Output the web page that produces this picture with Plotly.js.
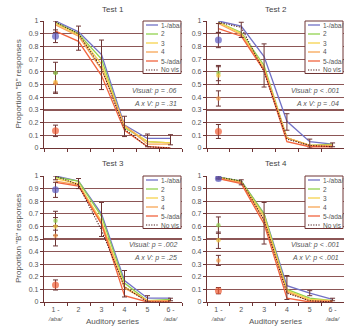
<!DOCTYPE html>
<html><head><meta charset="utf-8">
<script src="https://cdn.plot.ly/plotly-3.0.1.min.js"></script>
<style>html,body{margin:0;padding:0;background:#fff;}#chart{width:344px;height:327px;}</style>
</head><body><div id="chart"></div>
<script>
// ---------- DATA ----------
const categories = ['1','2','3','4','5','6'];
const tickLabels = ['1 -<br><span style="font-size:6px"><i>/aba/</i></span>','2','3','4','5','6 -<br><span style="font-size:6px"><i>/ada/</i></span>'];
const seriesNames = ['1-/aba/','2','3','4','5-/ada/','No vis'];
const panelTitles = ['Test 1','Test 2','Test 3','Test 4'];
const yTitle = 'Proportion "B" responses';
const xTitle = 'Auditory series';

// Test 1
const test1_s1 = [1.00,0.915,0.735,0.18,0.075,0.075];
const test1_s2 = [0.99,0.90,0.70,0.16,0.05,0.04];
const test1_s3 = [0.98,0.89,0.66,0.17,0.05,0.04];
const test1_s4 = [0.97,0.88,0.62,0.18,0.03,0.03];
const test1_s5 = [0.92,0.84,0.57,0.14,0.01,0.00];
const test1_noVis = [0.99,0.90,0.63,0.15,0.01,0.00];
const test1_errMid = [0.955,0.865,0.655,0.17,0.06,0.065];
const test1_errHalf = [0.045,0.095,0.195,0.08,0.05,0.04];
const test1_visual = [0.88,0.59,0.52,0.51,0.135];
const test1_visualErr = [0.05,0.085,0.08,0.08,0.045];
const test1_stats = ['Visual: p = .06','A x V: p = .31'];

// Test 2
const test2_s1 = [1.00,0.96,0.72,0.21,0.05,0.03];
const test2_s2 = [0.99,0.91,0.65,0.08,0.02,0.03];
const test2_s3 = [0.99,0.90,0.63,0.08,0.02,0.02];
const test2_s4 = [0.98,0.89,0.62,0.08,0.02,0.02];
const test2_s5 = [0.94,0.88,0.61,0.05,0.01,0.01];
const test2_noVis = [0.99,0.95,0.60,0.07,0.02,0.01];
const test2_errMid = [0.945,0.93,0.65,0.205,0.035,0.025];
const test2_errHalf = [0.035,0.06,0.17,0.065,0.035,0.015];
const test2_visual = [0.85,0.59,0.57,0.39,0.13];
const test2_visualErr = [0.06,0.06,0.07,0.06,0.055];
const test2_stats = ['Visual: p < .001','A x V: p = .04'];

// Test 3
const test3_s1 = [1.00,0.96,0.70,0.17,0.03,0.03];
const test3_s2 = [0.99,0.96,0.68,0.15,0.01,0.02];
const test3_s3 = [0.98,0.94,0.64,0.12,0.01,0.01];
const test3_s4 = [0.96,0.93,0.62,0.11,0.01,0.01];
const test3_s5 = [0.95,0.92,0.62,0.05,0.00,0.00];
const test3_noVis = [1.00,0.93,0.57,0.12,0.00,0.00];
const test3_errMid = [0.985,0.94,0.655,0.145,0.025,0.02];
const test3_errHalf = [0.015,0.04,0.135,0.105,0.025,0.01];
const test3_visual = [0.89,0.645,0.60,0.525,0.135];
const test3_visualErr = [0.06,0.075,0.07,0.08,0.04];
const test3_stats = ['Visual: p = .002','A x V: p = .25'];

// Test 4
const test4_s1 = [0.99,0.96,0.70,0.13,0.07,0.02];
const test4_s2 = [0.99,0.96,0.70,0.10,0.03,0.01];
const test4_s3 = [0.99,0.95,0.68,0.09,0.02,0.01];
const test4_s4 = [0.98,0.95,0.65,0.08,0.01,0.01];
const test4_s5 = [0.98,0.94,0.62,0.03,0.00,0.00];
const test4_noVis = [0.99,0.96,0.65,0.07,0.01,0.00];
const test4_errMid = [0.99,0.95,0.625,0.115,0.07,0.02];
const test4_errHalf = [0.01,0.02,0.165,0.095,0.02,0.01];
const test4_visual = [0.98,0.61,0.49,0.33,0.09];
const test4_visualErr = [0.01,0.065,0.065,0.04,0.025];
const test4_stats = ['Visual: p < .001','A x V: p < .001'];

// ---------- STYLE ----------
const W = 344, H = 327;
const FONT = 'Liberation Sans, Arial, sans-serif';
const TXT = '#555555';
const MAROON = '#6e3434';
const GRID = '#8c5656';
const lineColors = ['#7272c6','#92d250','#f6d24c','#f8a656','#f2643e','#4a1818'];
const markerColors = ['#5a5ac0','#8ccc48','#f2c83c','#f49a48','#ec5a32'];
const markerSizes = [7,4.5,4.5,4.5,7];
const NOVIS_DASH = '1.2px,1.4px';

const px = v => v / W;
const py = v => 1 - v / H;
// panel pixel boxes [left, right, top, bottom]
const boxes = [[44,182,21,148],[207,344,21,148],[44,182,176,302],[207,344,176,302]];

const panels = [
  {lines:[test1_s1,test1_s2,test1_s3,test1_s4,test1_s5,test1_noVis], errMid:test1_errMid, errHalf:test1_errHalf, vis:test1_visual, visErr:test1_visualErr, stats:test1_stats},
  {lines:[test2_s1,test2_s2,test2_s3,test2_s4,test2_s5,test2_noVis], errMid:test2_errMid, errHalf:test2_errHalf, vis:test2_visual, visErr:test2_visualErr, stats:test2_stats},
  {lines:[test3_s1,test3_s2,test3_s3,test3_s4,test3_s5,test3_noVis], errMid:test3_errMid, errHalf:test3_errHalf, vis:test3_visual, visErr:test3_visualErr, stats:test3_stats},
  {lines:[test4_s1,test4_s2,test4_s3,test4_s4,test4_s5,test4_noVis], errMid:test4_errMid, errHalf:test4_errHalf, vis:test4_visual, visErr:test4_visualErr, stats:test4_stats}
];

const traces = [];
const layout = {
  width: W, height: H, margin:{l:0,r:0,t:0,b:0},
  paper_bgcolor:'#ffffff', plot_bgcolor:'#ffffff',
  showlegend:false, font:{family:FONT, color:TXT, size:7},
  annotations:[], shapes:[]
};

panels.forEach((p, i) => {
  const n = i + 1;
  const xa = n === 1 ? 'x' : 'x' + n;
  const ya = n === 1 ? 'y' : 'y' + n;
  const b = boxes[i];
  const bottomRow = i >= 2;
  const leftCol = i % 2 === 0;

  p.lines.forEach((vals, k) => {
    traces.push({
      type:'scatter', mode:'lines', x:categories, y:vals, name:seriesNames[k],
      xaxis:xa, yaxis:ya, hoverinfo:'skip',
      line:{color:lineColors[k], width: k === 5 ? 1.1 : 1.3, dash: k === 5 ? NOVIS_DASH : 'solid'}
    });
  });
  traces.push({
    type:'scatter', mode:'markers', x:categories, y:p.errMid, xaxis:xa, yaxis:ya,
    marker:{size:1, opacity:0}, hoverinfo:'skip',
    error_y:{type:'data', array:p.errHalf, visible:true, color:MAROON, thickness:1, width:2.5}
  });
  traces.push({
    type:'scatter', mode:'markers', x:p.vis.map(() => categories[0]), y:p.vis, xaxis:xa, yaxis:ya,
    marker:{size:markerSizes, color:markerColors, line:{width:0}}, hoverinfo:'skip',
    error_y:{type:'data', array:p.visErr, visible:true, color:MAROON, thickness:1, width:2.5}
  });

  layout['xaxis' + (n === 1 ? '' : n)] = {
    domain:[px(b[0]), px(b[1])], anchor:ya, type:'category', categoryarray:categories,
    range:[-0.5, 5.5], tickmode:'array', tickvals:categories, ticktext:tickLabels, tickangle:0,
    tickson:'boundaries', ticks:'outside', ticklen:3, tickcolor:MAROON, tickwidth:1,
    showticklabels:bottomRow, tickfont:{size:7, color:TXT, family:FONT},
    showgrid:false, showline:true, linecolor:MAROON, linewidth:1.2, zeroline:false, fixedrange:true
  };
  layout['yaxis' + (n === 1 ? '' : n)] = {
    domain:[py(b[3]), py(b[2])], anchor:xa, range:[0,1], dtick:0.1, tick0:0,
    ticks:'outside', ticklen:3, tickcolor:MAROON, tickfont:{size:7, color:TXT, family:FONT},
    showgrid:true, gridcolor:GRID, gridwidth:1.2, showline:true, linecolor:MAROON, linewidth:1.2,
    zeroline:false, fixedrange:true
  };

  // panel title
  layout.annotations.push({text:panelTitles[i], xref:'paper', yref:'paper',
    x:px((b[0]+b[1])/2), y:py(b[2]-12), xanchor:'center', yanchor:'middle', showarrow:false,
    font:{size:8, color:'#444', family:FONT}});
  // y axis title (left column)
  if (leftCol) {
    layout.annotations.push({text:yTitle, xref:'paper', yref:'paper', textangle:-90,
      x:px(18), y:py((b[2]+b[3])/2), xanchor:'center', yanchor:'middle', showarrow:false,
      font:{size:8, color:TXT, family:FONT}});
  }
  // statistics
  [0.45, 0.35].forEach((yv, s) => {
    layout.annotations.push({text:'<i>' + p.stats[s] + '</i>', xref:xa + ' domain', yref:ya,
      x:0.975, y:yv, xanchor:'right', yanchor:'middle', showarrow:false,
      font:{size:7, color:TXT, family:FONT}});
  });
  if (bottomRow) {
    layout.annotations.push({text:xTitle, xref:'paper', yref:'paper',
      x:px((b[0]+b[1])/2), y:py(321), xanchor:'center', yanchor:'middle', showarrow:false,
      font:{size:8, color:TXT, family:FONT}});
  }

  // legend box (drawn manually to match the compact reference legend)
  const lw = 38, lh = 52.5;
  const L = b[1] - lw - 1, T = b[2];
  layout.shapes.push({type:'rect', xref:'paper', yref:'paper', x0:px(L), x1:px(L+lw), y0:py(T), y1:py(T+lh),
    fillcolor:'#ffffff', line:{color:MAROON, width:1}, layer:'above'});
  seriesNames.forEach((nm, k) => {
    const yy = T + 4 + 9 * k;
    layout.shapes.push({type:'line', xref:'paper', yref:'paper', x0:px(L+3), x1:px(L+15), y0:py(yy), y1:py(yy),
      line:{color:lineColors[k], width: k === 5 ? 1.1 : 1.3, dash: k === 5 ? NOVIS_DASH : 'solid'}, layer:'above'});
    layout.annotations.push({text:nm, xref:'paper', yref:'paper', x:px(L+16), y:py(yy),
      xanchor:'left', yanchor:'middle', showarrow:false, font:{size:6.5, color:TXT, family:FONT}});
  });
});

Plotly.newPlot('chart', traces, layout, {staticPlot:true, displayModeBar:false});
</script>
</body></html>
